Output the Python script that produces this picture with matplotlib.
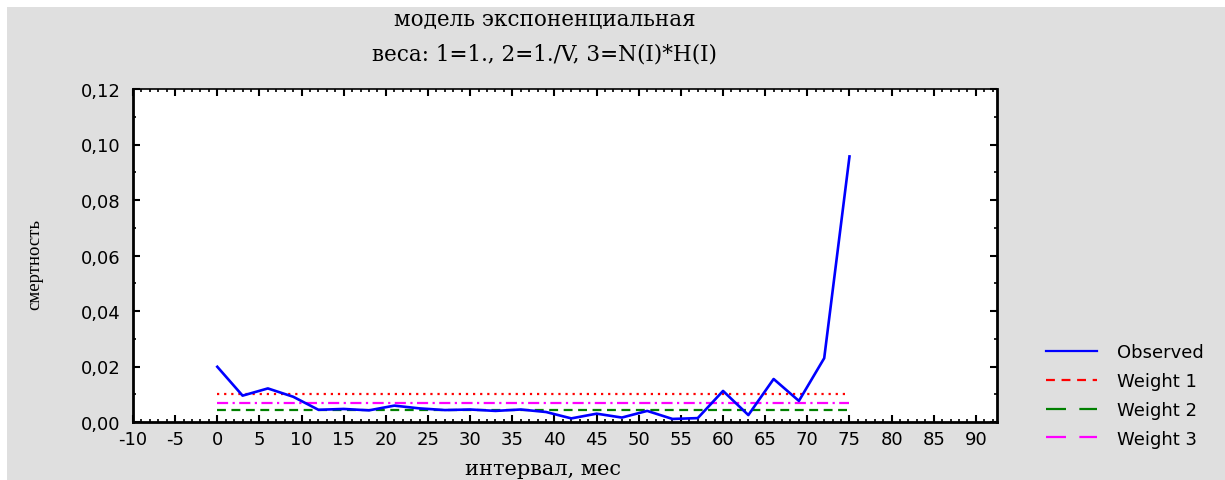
import matplotlib
matplotlib.use('Agg')
import matplotlib.pyplot as plt
from matplotlib.ticker import MultipleLocator, FuncFormatter
from matplotlib.lines import Line2D
from matplotlib.patches import Rectangle

plt.rcParams['axes.unicode_minus'] = False

# === данные ===
interval = [0, 3, 6, 9, 12, 15, 18, 21, 24, 27, 30, 33, 36, 39, 42, 45, 48,
            51, 54, 57, 60, 63, 66, 69, 72, 75]
observed = [0.0199, 0.0095, 0.0121, 0.0091, 0.0044, 0.0047, 0.0042, 0.0059,
            0.0049, 0.0043, 0.0045, 0.0040, 0.0045, 0.0036, 0.0013, 0.0030,
            0.0016, 0.0040, 0.0011, 0.0014, 0.0112, 0.0025, 0.0155, 0.0076,
            0.0230, 0.0957]
weight_x = [0, 75]
weight1 = [0.0101, 0.0101]
weight2 = [0.0044, 0.0044]
weight3 = [0.0070, 0.0070]
legend_labels = ['Observed', 'Weight 1', 'Weight 2', 'Weight 3']

W, H = 1225, 481
fig = plt.figure(figsize=(W / 100, H / 100), dpi=100, facecolor='white')
# серый фон с белой рамкой сверху и слева
fig.patches.append(Rectangle((7 / W, 0), 1 - 7 / W, 1 - 8 / H, transform=fig.transFigure,
                             facecolor='#dfdfdf', edgecolor='none', zorder=-10))

ax = fig.add_axes([133 / W, 58 / H, (997 - 133) / W, (423 - 90) / H])
ax.set_facecolor('white')

ax.plot(interval, observed, color='blue', lw=1.9, zorder=5)
ax.plot(weight_x, weight1, color='red', lw=1.6, linestyle=(0, (1, 2.2)))
ax.plot(weight_x, weight2, color='green', lw=1.6, linestyle=(0, (4, 2.5)))
ax.plot(weight_x, weight3, color='magenta', lw=1.6, linestyle=(0, (5, 2, 1, 2)))

ax.set_xlim(-10, 92.5)
ax.set_ylim(0, 0.12)
ax.xaxis.set_major_locator(MultipleLocator(5))
ax.xaxis.set_minor_locator(MultipleLocator(1))
ax.yaxis.set_major_locator(MultipleLocator(0.02))
ax.yaxis.set_minor_locator(MultipleLocator(0.01))
ax.yaxis.set_major_formatter(FuncFormatter(lambda v, p: f'{v:.2f}'.replace('.', ',')))
ax.xaxis.set_major_formatter(FuncFormatter(lambda v, p: f'{v:.0f}'))

ax.tick_params(axis='both', which='both', direction='in', top=True, right=True,
               colors='black', labelsize=13)
ax.tick_params(axis='both', which='major', length=5, width=1.5)
ax.tick_params(axis='both', which='minor', length=2.5, width=1.2)
ax.tick_params(axis='x', pad=6)
ax.tick_params(axis='y', pad=9)
for lab in ax.get_xticklabels() + ax.get_yticklabels():
    lab.set_family('DejaVu Sans')

for s in ax.spines.values():
    s.set_linewidth(2)
ax.spines['top'].set_linewidth(1.2)

# заголовки и подписи осей
fig.text(545 / W, 1 - 20 / H, 'модель экспоненциальная', ha='center', va='center',
         family='DejaVu Serif', fontsize=15.5)
fig.text(545 / W, 1 - 55 / H, 'веса: 1=1., 2=1./V, 3=N(I)*H(I)', ha='center', va='center',
         family='DejaVu Serif', fontsize=15.5)
fig.text(35 / W, 1 - 264 / H, 'смертность', rotation=90, ha='center', va='center',
         family='Liberation Serif', fontsize=13.5)
fig.text(543 / W, 6 / H, 'интервал, мес', ha='center', va='baseline',
         family='DejaVu Serif', fontsize=15)

# легенда
handles = [
    Line2D([], [], color='blue', lw=1.6),
    Line2D([], [], color='red', lw=1.6, linestyle=(0, (4, 3))),
    Line2D([], [], color='green', lw=1.6, linestyle=(0, (9, 6))),
    Line2D([], [], color='magenta', lw=1.6, linestyle=(0, (9, 6))),
]
leg = fig.legend(handles, legend_labels, loc='upper left',
                 bbox_to_anchor=(1030 / W, 1 - 328 / H), frameon=False,
                 prop={'family': 'DejaVu Sans', 'size': 13},
                 handlelength=2.8, handletextpad=1.1, labelspacing=0.6)

fig.savefig('out.png', dpi=100, facecolor=fig.get_facecolor())
